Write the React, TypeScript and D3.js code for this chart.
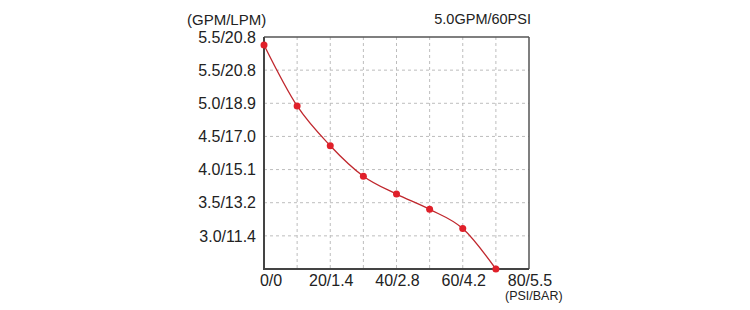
import React from "react";
import * as d3 from "d3";

const psi = [0, 10, 20, 30, 40, 50, 60, 70];
const gpm = [5.88, 4.96, 4.36, 3.9, 3.63, 3.4, 3.11, 2.5];
const xTickValues = [0, 20, 40, 60, 80];
const xTickLabels = ["0/0", "20/1.4", "40/2.8", "60/4.2", "80/5.5"];
const yTickValues = [6.0, 5.5, 5.0, 4.5, 4.0, 3.5, 3.0];
const yTickLabels = ["5.5/20.8", "5.5/20.8", "5.0/18.9", "4.5/17.0", "4.0/15.1", "3.5/13.2", "3.0/11.4"];
const xGrid = [10, 20, 30, 40, 50, 60, 70];
const yGrid = [5.5, 5.0, 4.5, 4.0, 3.5, 3.0];

const W = 750, H = 310;
const left = 264, right = 529, top = 37, bottom = 269;

export default function App() {
  const x = d3.scaleLinear().domain([0, 80]).range([left, right]);
  const y = d3.scaleLinear().domain([2.5, 6.0]).range([bottom, top]);
  const pts: [number, number][] = psi.map((p, i) => [p, gpm[i]]);
  const line = d3
    .line<[number, number]>()
    .x((d) => x(d[0]))
    .y((d) => y(d[1]))
    .curve(d3.curveMonotoneX);
  const font = "'Liberation Sans', Arial, sans-serif";
  return (
    <svg
      width={W}
      height={H}
      style={{ position: "absolute", left: 0, top: 0, background: "#fff" }}
      fontFamily={font}
    >
      <rect width={W} height={H} fill="#fff" />
      {xGrid.map((v) => (
        <line key={"gx" + v} x1={x(v)} x2={x(v)} y1={top} y2={bottom} stroke="#bdbdbd" strokeWidth={1} strokeDasharray="3,3" />
      ))}
      {yGrid.map((v) => (
        <line key={"gy" + v} x1={left} x2={right} y1={y(v)} y2={y(v)} stroke="#bdbdbd" strokeWidth={1} strokeDasharray="3,3" />
      ))}
      <line x1={left} x2={right} y1={top} y2={top} stroke="#555" strokeWidth={1.5} />
      <line x1={right} x2={right} y1={top} y2={bottom} stroke="#555" strokeWidth={1.5} />
      <line x1={left} x2={left} y1={top} y2={bottom + 1} stroke="#444" strokeWidth={2} />
      <line x1={left} x2={right} y1={bottom} y2={bottom} stroke="#444" strokeWidth={2} />
      <path d={line(pts) || ""} fill="none" stroke="#c0272d" strokeWidth={1.3} />
      {pts.map((d, i) => (
        <circle key={"p" + i} cx={x(d[0])} cy={y(d[1])} r={3.5} fill="#e0202a" />
      ))}
      {yTickValues.map((v, i) => (
        <text key={"yt" + i} x={256} y={y(v)} dy="0.36em" textAnchor="end" fontSize={16} fill="#222">
          {yTickLabels[i]}
        </text>
      ))}
      {xTickValues.map((v, i) => (
        <text key={"xt" + i} x={x(v) + (i === 0 ? 7 : 1)} y={286} textAnchor="middle" fontSize={16} fill="#222">
          {xTickLabels[i]}
        </text>
      ))}
      <text x={187} y={25} fontSize={15} fill="#222">(GPM/LPM)</text>
      <text x={531} y={24} textAnchor="end" fontSize={14.5} fill="#222">5.0GPM/60PSI</text>
      <text x={505} y={300} fontSize={12.5} fill="#222">(PSI/BAR)</text>
    </svg>
  );
}
